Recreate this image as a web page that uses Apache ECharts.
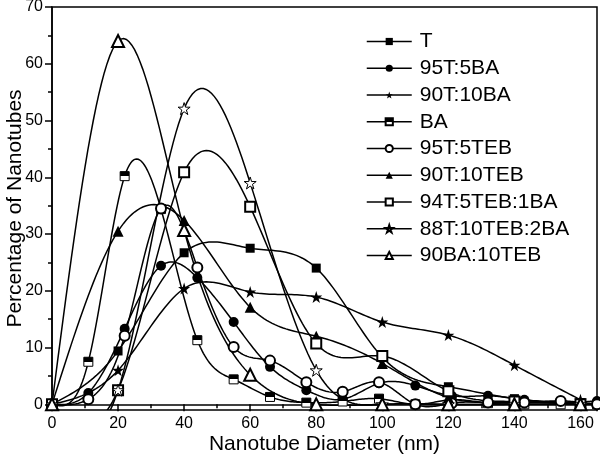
<!DOCTYPE html>
<html>
<head>
<meta charset="utf-8">
<script src="https://cdn.jsdelivr.net/npm/echarts@6/dist/echarts.min.js"></script>
<style>html,body{margin:0;padding:0;background:#fff}#c{width:600px;height:463px}</style>
</head>
<body>
<div id="c"></div>
<script>
// x positions (nm)
const xA = [0, 20, 40, 60, 80, 100, 120, 140, 160];
const xB = [0, 11, 22, 33, 44, 55, 66, 77, 88, 99, 110, 121, 132, 143, 154, 165];

// series values (% of nanotubes)
const T          = [0, 9.4, 26.7, 27.5, 24.0, 8.3, 3.1, 1.0, 0.3];                                   // on xA
const T95BA5     = [0, 2.0, 13.3, 24.4, 22.3, 14.5, 6.6, 2.5, 0.9, 3.7, 3.3, 1.5, 1.5, 0.8, 0.3, 0.6]; // on xB
const T90BA10    = [0, 6.0, 20.4, 19.8, 18.9, 14.5, 12.2, 6.9, 0.8];                                 // on xA
const BA         = [0, 7.5, 40.2, 34.4, 11.3, 4.4, 1.3, 0.3, 0.5, 1.0, 0, 0.8, 0.2, 0, 0, 0];         // on xB
const T95TEB5    = [0, 0.9, 12.1, 34.5, 24.1, 10.1, 7.7, 3.9, 2.2, 3.9, 0, 0.2, 0.3, 0.3, 0.6, 0];    // on xB
const T90TEB10   = [0, 30.5, 32.4, 17.1, 12.0, 7.2, 1.2, 0.4, 0];                                     // on xA
const T94TEB5BA1 = [0, 2.5, 40.9, 34.8, 10.7, 8.5, 2.3, 0.5, 0];                                      // on xA
const T88TEB10BA2= [0, 2.5, 52.1, 39.0, 6.0, 0, 0, 0, 0];                                             // on xA
const BA90TEB10  = [0, 64.0, 30.7, 5.2, 0, 0, 0, 0, 0];                                               // on xA

const names = ['T','95T:5BA','90T:10BA','BA','95T:5TEB','90T:10TEB','94T:5TEB:1BA','88T:10TEB:2BA','90BA:10TEB'];
const yTicks = [0, 10, 20, 30, 40, 50, 60, 70];
const yMinorTicks = [5, 15, 25, 35, 45, 55, 65];

const STAR = 'path://M50,0 L61.2,34.5 L97.6,34.5 L68.2,55.9 L79.4,90.5 L50,69.1 L20.6,90.5 L31.8,55.9 L2.4,34.5 L38.8,34.5 Z';
const FONT = 'Liberation Sans, Arial, sans-serif';

function pairs(xs, ys) { return xs.map((x, i) => [x, ys[i]]); }

// natural cubic spline second derivatives (used only to render the connecting curve)
function splineM(xs, ys) {
  const n = xs.length, M = new Array(n).fill(0);
  if (n < 3) return M;
  const h = [], a = [], b = [], c = [], d = [];
  for (let i = 0; i < n - 1; i++) h.push(xs[i + 1] - xs[i]);
  for (let i = 1; i < n - 1; i++) {
    a.push(h[i - 1]); b.push(2 * (h[i - 1] + h[i])); c.push(h[i]);
    d.push(6 * ((ys[i + 1] - ys[i]) / h[i] - (ys[i] - ys[i - 1]) / h[i - 1]));
  }
  const m = b.length;
  for (let i = 1; i < m; i++) { const w = a[i] / b[i - 1]; b[i] -= w * c[i - 1]; d[i] -= w * d[i - 1]; }
  const s = new Array(m);
  s[m - 1] = d[m - 1] / b[m - 1];
  for (let i = m - 2; i >= 0; i--) s[i] = (d[i] - c[i] * s[i + 1]) / b[i];
  for (let i = 0; i < m; i++) M[i + 1] = s[i];
  return M;
}

function curveRenderer(xs, ys) {
  const M = splineM(xs, ys);
  return function (params, api) {
    if (params.dataIndex !== 0) return null;
    const pts = [];
    for (let i = 0; i < xs.length - 1; i++) {
      const h = xs[i + 1] - xs[i];
      const steps = 24;
      for (let k = (i === 0 ? 0 : 1); k <= steps; k++) {
        const x = xs[i] + h * k / steps;
        const A = (xs[i + 1] - x) / h, B = (x - xs[i]) / h;
        const y = A * ys[i] + B * ys[i + 1] + ((A * A * A - A) * M[i] + (B * B * B - B) * M[i + 1]) * h * h / 6;
        pts.push(api.coord([x, y]));
      }
    }
    const cs = params.coordSys;
    return {
      type: 'group',
      clipPath: {type: 'rect', shape: {x: cs.x, y: cs.y, width: cs.width, height: cs.height}},
      children: [{
        type: 'polyline',
        shape: {points: pts},
        style: {stroke: '#000', lineWidth: 1.5, fill: null}
      }]
    };
  };
}

const halfSquare = {
  type: 'linear', x: 0, y: 0, x2: 0, y2: 1,
  colorStops: [{offset: 0, color: '#000'}, {offset: 0.5, color: '#000'}, {offset: 0.5, color: '#fff'}, {offset: 1, color: '#fff'}]
};

const defs = [
  {name: names[0], xs: xA, ys: T,           symbol: 'rect',          size: 9,  item: {color: '#000'}},
  {name: names[1], xs: xB, ys: T95BA5,      symbol: 'circle',        size: 10, item: {color: '#000'}},
  {name: names[2], xs: xA, ys: T90BA10,     symbol: STAR,            size: 12, item: {color: '#000'}},
  {name: names[3], xs: xB, ys: BA,          symbol: 'rect',          size: 9,  item: {color: halfSquare, borderColor: '#000', borderWidth: 1}},
  {name: names[4], xs: xB, ys: T95TEB5,     symbol: 'emptyCircle',   size: 10, item: {color: '#000', borderWidth: 1}},
  {name: names[5], xs: xA, ys: T90TEB10,    symbol: 'triangle',      size: 11, item: {color: '#000'}},
  {name: names[6], xs: xA, ys: T94TEB5BA1,  symbol: 'emptyRect',     size: 10, item: {color: '#000', borderWidth: 1}},
  {name: names[7], xs: xA, ys: T88TEB10BA2, symbol: STAR,            size: 12, item: {color: '#fff', borderColor: '#000', borderWidth: 1}},
  {name: names[8], xs: xA, ys: BA90TEB10,   symbol: 'emptyTriangle', size: 12, item: {color: '#000', borderWidth: 1}}
];

const series = [];
defs.forEach(d => {
  series.push({
    type: 'custom',
    name: d.name + ' curve',
    data: pairs(d.xs, d.ys),
    renderItem: curveRenderer(d.xs, d.ys),
    silent: true,
    z: 1,
    animation: false
  });
});
defs.forEach(d => {
  series.push({
    name: d.name,
    type: 'line',
    data: pairs(d.xs, d.ys),
    symbol: d.symbol,
    symbolSize: d.size,
    showAllSymbol: true,
    clip: true,
    lineStyle: {color: '#000', width: 1.5, opacity: 0},
    itemStyle: d.item,
    emphasis: {disabled: true},
    z: 3,
    animation: false
  });
});

const chart = echarts.init(document.getElementById('c'), null, {renderer: 'canvas'});
chart.setOption({
  backgroundColor: '#fff',
  animation: false,
  textStyle: {fontFamily: FONT},
  grid: {left: 52, right: 3, top: 7, bottom: 53, containLabel: false, outerBoundsMode: 'none',
         show: true, borderColor: '#000', borderWidth: 1.5, backgroundColor: 'transparent'},
  legend: {
    orient: 'vertical',
    left: 361, top: 26,
    itemWidth: 45, itemHeight: 9, itemGap: 5.75,
    data: names,
    lineStyle: {color: '#000', width: 1.5, opacity: 1},
    textStyle: {fontFamily: FONT, fontSize: 21, color: '#000', lineHeight: 20, padding: [0, 0, 0, 3]},
    selectedMode: false
  },
  xAxis: {
    type: 'value', min: 0, max: 165, interval: 20,
    name: 'Nanotube Diameter (nm)', nameLocation: 'middle', nameGap: 24, nameMoveOverlap: false,
    nameTextStyle: {fontFamily: FONT, fontSize: 21, color: '#000'},
    axisLine: {show: true, lineStyle: {color: '#000', width: 1.5}},
    axisTick: {show: true, length: 7, lineStyle: {color: '#000', width: 1.5}},
    minorTick: {show: true, splitNumber: 2, length: 4, lineStyle: {color: '#000', width: 1.5}},
    axisLabel: {fontFamily: FONT, fontSize: 16, color: '#000', margin: 6},
    splitLine: {show: false}
  },
  yAxis: [{
    type: 'value', min: -1, max: 70,
    name: 'Percentage of Nanotubes', nameLocation: 'middle', nameGap: 26, nameRotate: 90, nameMoveOverlap: false,
    nameTextStyle: {fontFamily: FONT, fontSize: 21, color: '#000'},
    axisLine: {show: true, lineStyle: {color: '#000', width: 1.5}},
    axisTick: {show: true, length: 7, customValues: yTicks, lineStyle: {color: '#000', width: 1.5}},
    axisLabel: {fontFamily: FONT, fontSize: 16, color: '#000', margin: 9, customValues: yTicks},
    splitLine: {show: false}
  }, {
    type: 'value', min: -1, max: 70, position: 'left',
    axisLine: {show: false},
    axisTick: {show: true, length: 4, customValues: yMinorTicks, lineStyle: {color: '#000', width: 1.5}},
    axisLabel: {show: false, customValues: yMinorTicks},
    splitLine: {show: false}
  }],
  series: series
});
</script>
</body>
</html>
